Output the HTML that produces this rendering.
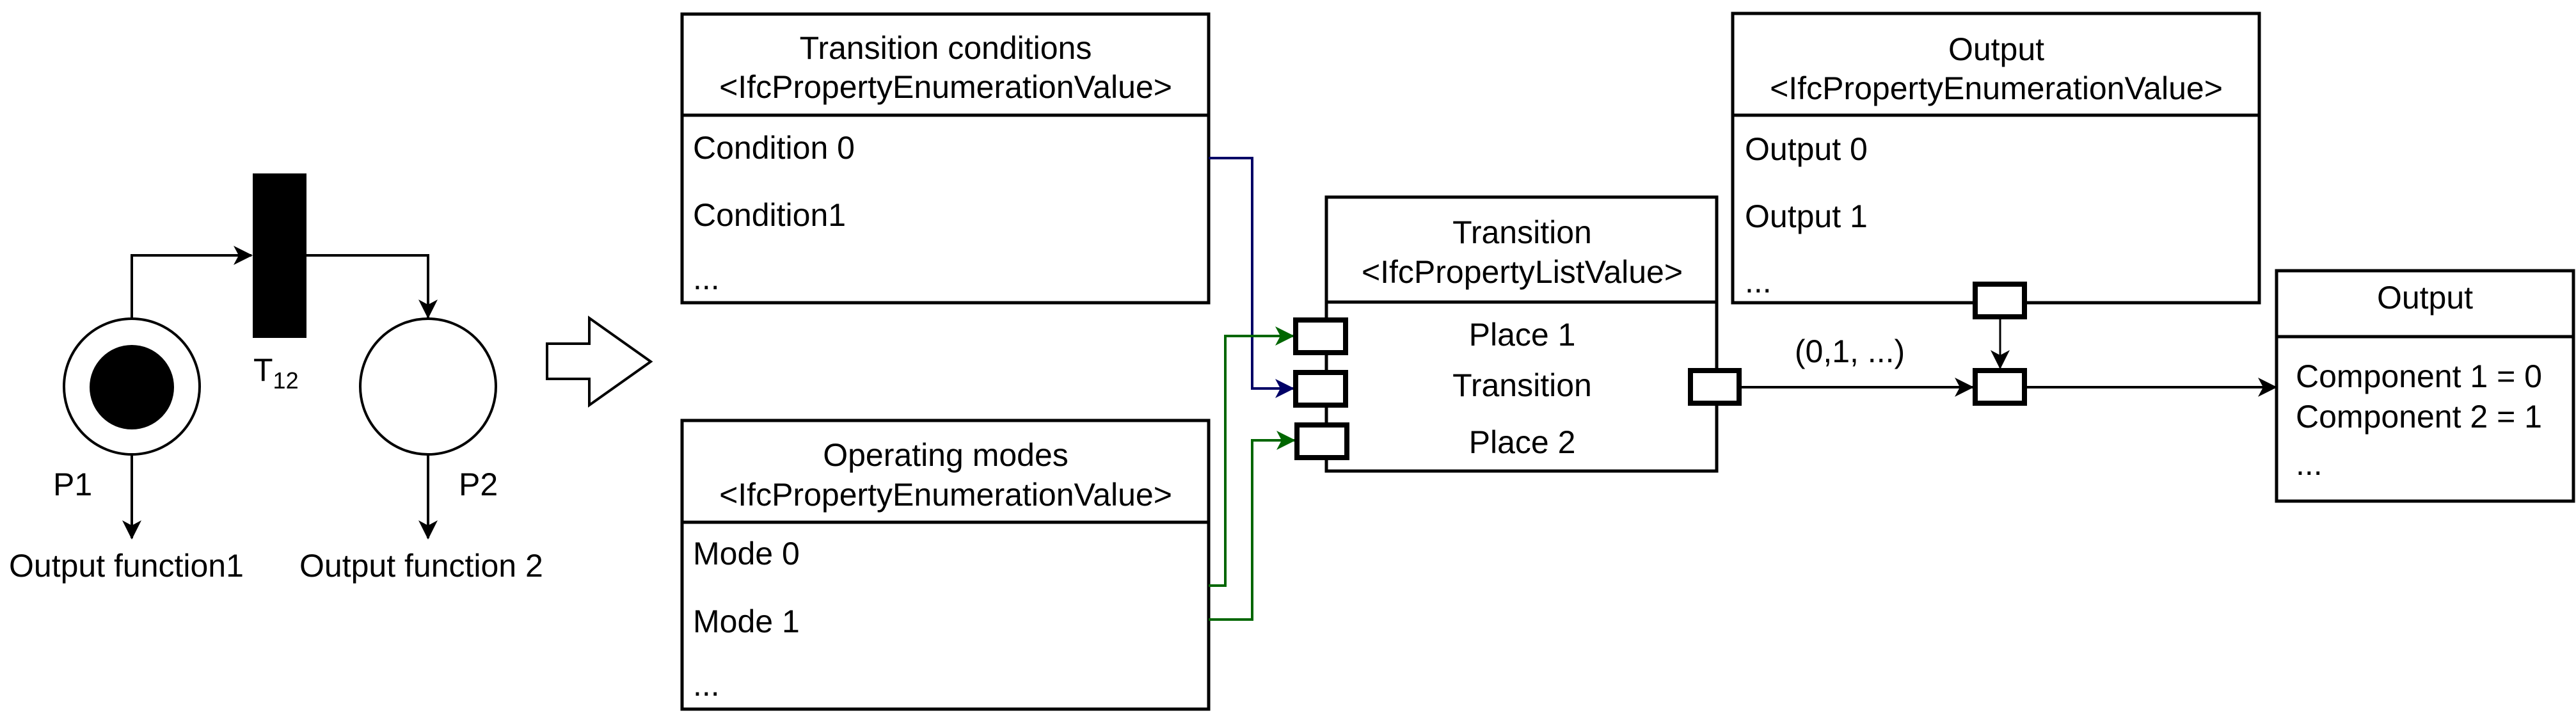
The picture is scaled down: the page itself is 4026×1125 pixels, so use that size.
<!DOCTYPE html>
<html><head><meta charset="utf-8"><style>
html,body{margin:0;padding:0;background:#fff;}
svg{display:block;}
text{font-family:"Liberation Sans",Arial,sans-serif;font-size:50px;fill:#000;}
</style></head><body>
<svg width="4026" height="1125" viewBox="0 0 4026 1125" xmlns="http://www.w3.org/2000/svg">
<defs>
<marker id="ab" viewBox="0 0 30 30" refX="28" refY="15" markerWidth="30" markerHeight="30" markerUnits="userSpaceOnUse" orient="auto"><path d="M0,0 L30,15 L0,30 L8,15 Z" fill="#000"/></marker>
<marker id="au" viewBox="0 0 30 30" refX="28" refY="15" markerWidth="30" markerHeight="30" markerUnits="userSpaceOnUse" orient="auto"><path d="M0,0 L30,15 L0,30 L8,15 Z" fill="#000066"/></marker>
<marker id="ag" viewBox="0 0 30 30" refX="28" refY="15" markerWidth="30" markerHeight="30" markerUnits="userSpaceOnUse" orient="auto"><path d="M0,0 L30,15 L0,30 L8,15 Z" fill="#006600"/></marker>
</defs>
<g fill="none" stroke="#000" stroke-width="4">
<!-- Petri net -->
<path d="M206,498 V399 H393" marker-end="url(#ab)"/>
<path d="M479,399 H669 V496" marker-end="url(#ab)"/>
<path d="M206,711 V841" marker-end="url(#ab)"/>
<path d="M669,711 V841" marker-end="url(#ab)"/>
<circle cx="206" cy="604" r="106" fill="#fff"/>
<circle cx="669" cy="604" r="106" fill="#fff"/>
</g>
<rect x="395" y="271" width="84" height="257" fill="#000"/>
<ellipse cx="206" cy="605" rx="66" ry="66" fill="#000"/>
<text x="83" y="774">P1</text>
<text x="717" y="774">P2</text>
<text x="14" y="901">Output function1</text>
<text x="468" y="901">Output function 2</text>
<text x="396" y="595">T<tspan font-size="36" dy="12">12</tspan></text>
<!-- big arrow -->
<path d="M855,537 H921 V497 L1017,565 L921,633 V592 H855 Z" fill="#fff" stroke="#000" stroke-width="4"/>

<!-- boxes -->
<g fill="#fff" stroke="#000" stroke-width="5">
<rect x="1066" y="22" width="823" height="451"/>
<line x1="1066" y1="180" x2="1889" y2="180"/>
<rect x="1066" y="657" width="823" height="451"/>
<line x1="1066" y1="816" x2="1889" y2="816"/>
<rect x="2073" y="308" width="610" height="428"/>
<line x1="2073" y1="472" x2="2683" y2="472"/>
<rect x="2708" y="21" width="823" height="452"/>
<line x1="2708" y1="180" x2="3531" y2="180"/>
<rect x="3558" y="423" width="464" height="360"/>
<line x1="3558" y1="526" x2="4022" y2="526"/>
</g>
<g text-anchor="middle">
<text x="1478" y="92">Transition conditions</text>
<text x="1478" y="153">&lt;IfcPropertyEnumerationValue&gt;</text>
<text x="1478" y="728">Operating modes</text>
<text x="1478" y="790">&lt;IfcPropertyEnumerationValue&gt;</text>
<text x="2379" y="380">Transition</text>
<text x="2379" y="442">&lt;IfcPropertyListValue&gt;</text>
<text x="2379" y="540">Place 1</text>
<text x="2379" y="619">Transition</text>
<text x="2379" y="708">Place 2</text>
<text x="3120" y="94">Output</text>
<text x="3120" y="155">&lt;IfcPropertyEnumerationValue&gt;</text>
<text x="3790" y="482">Output</text>
<text x="2891" y="566">(0,1, ...)</text>
</g>
<text x="1083" y="248">Condition 0</text>
<text x="1083" y="353">Condition1</text>
<text x="1083" y="452">...</text>
<text x="1083" y="882">Mode 0</text>
<text x="1083" y="988">Mode 1</text>
<text x="1083" y="1087">...</text>
<text x="2727" y="250">Output 0</text>
<text x="2727" y="355">Output 1</text>
<text x="2727" y="457">...</text>
<text x="3588" y="605">Component 1 = 0</text>
<text x="3588" y="668">Component 2 = 1</text>
<text x="3588" y="742">...</text>

<!-- connectors -->
<g fill="none" stroke-width="4">
<path d="M1889,247 H1957 V607 H2021" stroke="#000066" marker-end="url(#au)"/>
<path d="M1889,915 H1915 V525 H2021" stroke="#006600" marker-end="url(#ag)"/>
<path d="M1889,968 H1957 V688 H2023" stroke="#006600" marker-end="url(#ag)"/>
<path d="M2722,605 H3083" stroke="#000" marker-end="url(#ab)"/>
<path d="M3168,605 H3557" stroke="#000" marker-end="url(#ab)"/>
<path d="M3126,499 V575" stroke="#000" stroke-width="3" marker-end="url(#ab)"/>
</g>
<!-- ports -->
<g fill="#fff" stroke="#000" stroke-width="8">
<rect x="2025" y="500" width="78" height="51"/>
<rect x="2025" y="582" width="78" height="51"/>
<rect x="2027" y="664" width="78" height="51"/>
<rect x="2642" y="579" width="76" height="51"/>
<rect x="3087" y="444" width="77" height="51"/>
<rect x="3087" y="579" width="77" height="51"/>
</g>
</svg>
</body></html>
